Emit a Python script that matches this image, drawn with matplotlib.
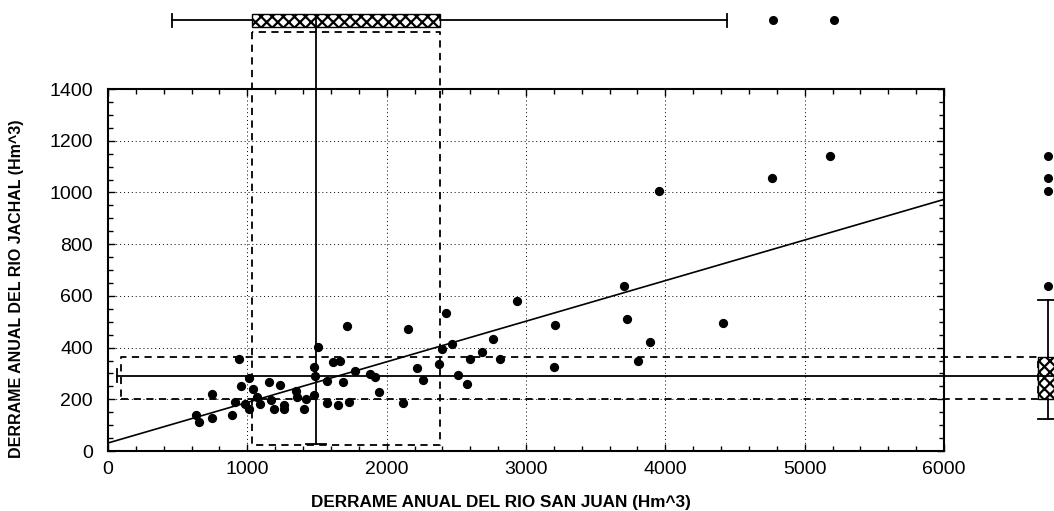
import numpy as np
import matplotlib.pyplot as plt
from matplotlib.ticker import MultipleLocator

plt.rcParams['font.family'] = ['Liberation Sans', 'DejaVu Sans']
plt.rcParams['hatch.linewidth'] = 1.6

# annual flow, San Juan river (x) vs Jachal river (y), Hm^3
san_juan = [629, 655, 744, 746, 892, 909, 942, 957, 985, 1010, 1014, 1041, 1072,
            1091, 1153, 1172, 1191, 1237, 1261, 1265, 1349, 1359, 1405, 1421,
            1476, 1476, 1488, 1505, 1572, 1572, 1617, 1665, 1651, 1689, 1718,
            1728, 1775, 1880, 1914, 1947, 2115, 2153, 2216, 2263, 2376, 2397,
            2426, 2469, 2512, 2579, 2596, 2686, 2761, 2813, 2938, 3206, 3201,
            3706, 3725, 3802, 3888, 3952, 4412, 4763, 5182]
jachal = [138, 112, 129, 220, 141, 191, 354, 252, 182, 282, 162, 238, 208,
          183, 266, 199, 164, 257, 178, 163, 234, 207, 163, 203,
          325, 217, 291, 403, 269, 185, 346, 350, 177, 265, 484,
          191, 309, 296, 287, 229, 186, 472, 321, 274, 336, 394,
          532, 414, 295, 259, 354, 384, 434, 357, 582, 486, 326,
          639, 511, 348, 420, 1006, 494, 1056, 1140]

# regression line
fit_intercept = 31
fit_slope = 0.157

# box plot stats
sj_stats = dict(whislo=459, q1=1034, med=1493, q3=2384, whishi=4444,
                fliers=[4774, 5212])
ja_stats = dict(whislo=125, q1=200, med=292, q3=362, whishi=585,
                fliers=[640, 1006, 1056, 1140])

fig = plt.figure(figsize=(10.54, 5.11), dpi=100)
ax = fig.add_axes([0.1025, 0.1174, 0.7931, 0.7084])

ax.set_xlim(0, 6000)
ax.set_ylim(0, 1400)

# scatter + fit
ax.scatter(san_juan, jachal, s=32, color='black', zorder=5)
xx = np.array([0, 6000])
ax.plot(xx, fit_intercept + fit_slope * xx, color='black', lw=1.2, zorder=4)

box_kw = dict(facecolor='white', edgecolor='black', hatch='xxx', linewidth=1.0)
line_kw = dict(color='black', lw=1.3)
flier_kw = dict(marker='o', markerfacecolor='black', markeredgecolor='black',
                markersize=5.5)

# ---- marginal box for San Juan (top, outside axes) ----
top_y = 1665
bp1 = ax.bxp([sj_stats], positions=[top_y], widths=[50], orientation='horizontal',
             patch_artist=True, boxprops=box_kw, capwidths=[50],
             whiskerprops=line_kw, capprops=line_kw, medianprops=line_kw,
             flierprops=flier_kw, manage_ticks=False)

# ---- marginal box for Jachal (right, outside axes) ----
right_x = 6747
bp2 = ax.bxp([ja_stats], positions=[right_x], widths=[144],
             patch_artist=True, boxprops=box_kw, capwidths=[144],
             whiskerprops=line_kw, capprops=line_kw, medianprops=line_kw,
             flierprops=flier_kw, manage_ticks=False)

for bp in (bp1, bp2):
    for key in bp:
        for art in bp[key]:
            art.set_clip_on(False)
            art.set_zorder(6)

# projections of the boxes onto the scatter
dash = (0, (4, 3))
ax.plot([sj_stats['q1'], sj_stats['q1'], sj_stats['q3'], sj_stats['q3'], sj_stats['q1']],
        [1621, 23, 23, 1621, 1621], color='black', lw=1.3, ls=dash, clip_on=False)
ax.plot([sj_stats['med'], sj_stats['med']], [top_y, 27], color='black', lw=1.3,
        clip_on=False)
ax.plot([sj_stats['med'] - 75, sj_stats['med'] + 75], [27, 27], color='black', lw=1.3)

box_left = right_x - 72
ax.plot([91, box_left, box_left, 91, 91],
        [ja_stats['q1'], ja_stats['q1'], ja_stats['q3'], ja_stats['q3'], ja_stats['q1']],
        color='black', lw=1.3, ls=dash, clip_on=False)
ax.plot([62, box_left], [ja_stats['med'], ja_stats['med']], color='black', lw=1.3,
        clip_on=False)
ax.plot([62, 62], [ja_stats['med'] - 27, ja_stats['med'] + 27], color='black', lw=1.3)

# grid / ticks
ax.xaxis.set_major_locator(MultipleLocator(1000))
ax.yaxis.set_major_locator(MultipleLocator(200))
ax.xaxis.set_minor_locator(MultipleLocator(200))
ax.yaxis.set_minor_locator(MultipleLocator(50))
ax.grid(True, which='major', color='black', lw=0.7, ls=(0, (1, 3)))
ax.tick_params(which='both', direction='in', top=True, right=True, labelsize=14,
               width=1.0)
ax.tick_params(axis='x', which='major', pad=7)
ax.tick_params(axis='y', which='major', pad=11)
ax.tick_params(which='major', length=5)
ax.tick_params(which='minor', length=3.5)
for sp in ax.spines.values():
    sp.set_linewidth(1.5)

ax.set_xlabel('DERRAME ANUAL DEL RIO SAN JUAN (Hm^3)', fontsize=12.3,
              fontweight='bold')
ax.set_ylabel('DERRAME ANUAL DEL RIO JACHAL (Hm^3)', fontsize=11.5,
              fontweight='bold')
ax.xaxis.set_label_coords(0.47, -0.122)
ax.yaxis.set_label_coords(-0.1, 0.449)

fig.savefig('out.png', dpi=100)
